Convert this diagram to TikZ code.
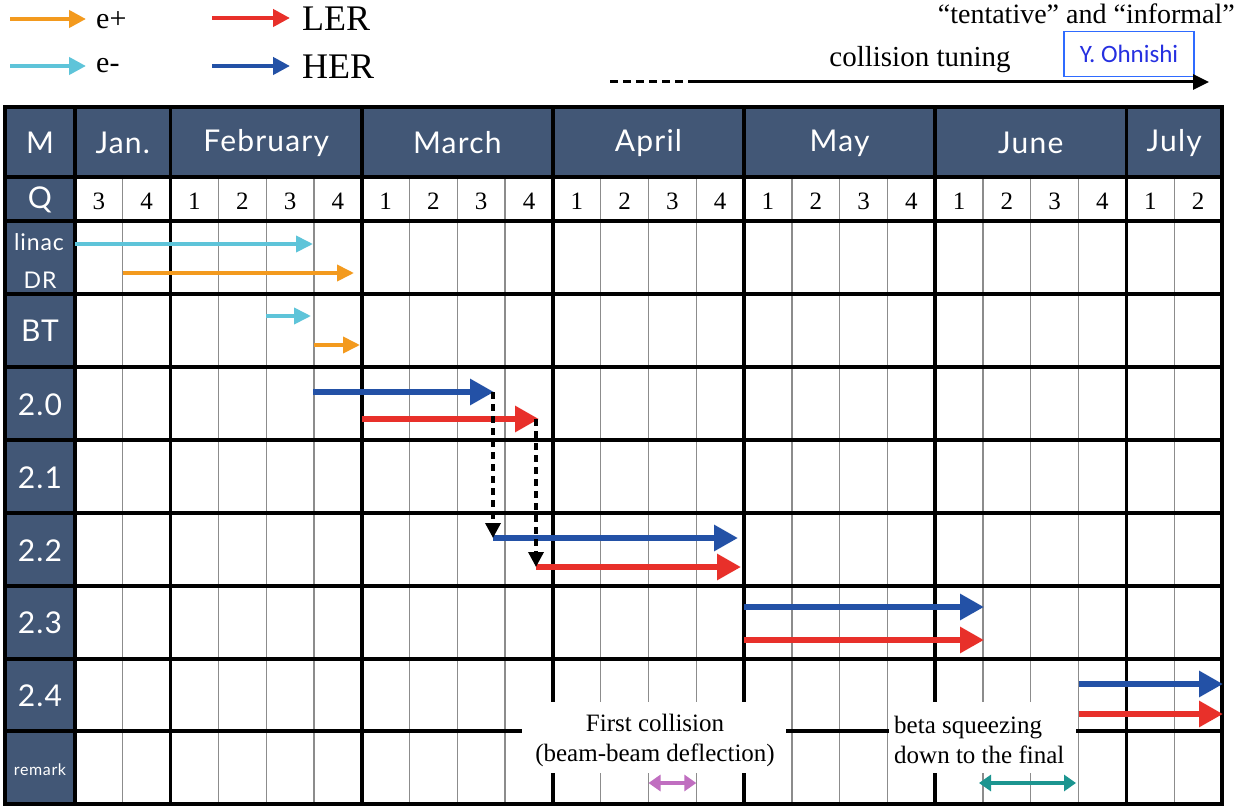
\documentclass[tikz,border=0pt]{standalone}
\usepackage{fontspec}
\setmainfont{Liberation Serif}
\newfontfamily\hdrfont{Lato}[LetterSpace=4]
\newfontfamily\ohfont{Carlito}
\usetikzlibrary{arrows.meta}
\definecolor{hdr}{HTML}{425776}
\definecolor{eplus}{HTML}{F39A1E}
\definecolor{eminus}{HTML}{5EC4D9}
\definecolor{ler}{HTML}{E8302A}
\definecolor{her}{HTML}{2351A6}
\definecolor{pinkarr}{HTML}{C06EC0}
\definecolor{tealarr}{HTML}{1C9590}
\definecolor{ohblue}{HTML}{2F6BFF}
\definecolor{ohtext}{HTML}{2630E0}
\tikzset{
  thinline/.style={draw=black!45, line width=1.3pt},
  thickline/.style={draw=black, line width=3.6pt},
  hdrtext/.style={text=white, font=\hdrfont\fontsize{30}{32}\selectfont, inner sep=0pt},
  lbltext/.style={text=white, font=\hdrfont\fontsize{30}{32}\selectfont, inner sep=0pt},
  smalllbl/.style={text=white, font=\hdrfont\fontsize{23}{25}\selectfont, inner sep=0pt},
  qtext/.style={font=\fontsize{25}{27}\selectfont, inner sep=0pt},
  smallarr/.style={line width=3.8pt, -{Triangle[length=17pt,width=16pt]}},
  legarr/.style={line width=4.2pt, -{Triangle[length=17pt,width=17pt]}},
  bigarr/.style={line width=6pt, -{Triangle[length=24pt,width=25pt]}},
  dasharr/.style={line width=3.4pt, dash pattern=on 7pt off 5pt, -{Triangle[length=15pt,width=15pt]}},
  dblarr/.style={line width=3.8pt, {Triangle[length=12pt,width=16pt]}-{Triangle[length=12pt,width=16pt]}},
  remtext/.style={font=\fontsize{25}{30}\selectfont, inner sep=0pt},
  legtext/.style={anchor=west, inner sep=0pt},
}
\begin{document}
\begin{tikzpicture}[x=1pt,y=-1pt]
\useasboundingbox (0,0) rectangle (1245,808);
% ---------- legend ----------
\coordinate (epS) at (10,19);  \coordinate (epE) at (86,19);
\coordinate (emS) at (10,66);  \coordinate (emE) at (86,66);
\coordinate (lrS) at (212,18); \coordinate (lrE) at (290,18);
\coordinate (hrS) at (212,66); \coordinate (hrE) at (290,66);
\draw[legarr, eplus] (epS) -- (epE);
\draw[legarr, eminus] (emS) -- (emE);
\draw[legarr, ler] (lrS) -- (lrE);
\draw[legarr, her] (hrS) -- (hrE);
\node[legtext, font=\fontsize{30}{32}\selectfont] (legep) at (96,20) {e+};
\node[legtext, font=\fontsize{30}{32}\selectfont] (legem) at (96,66) {e-};
\node[legtext, font=\fontsize{36}{38}\selectfont] (legler) at (302,19) {LER};
\node[legtext, font=\fontsize{36}{38}\selectfont] (legher) at (302,67) {HER};
% ---------- top right ----------
\node[anchor=east, inner sep=0pt, font=\fontsize{28}{30}\selectfont] (tent) at (1235,14) {“tentative” and “informal”};
\node[inner sep=0pt, font=\fontsize{29}{31}\selectfont] (ctune) at (920,60) {collision tuning};
\node[draw=ohblue, line width=1.3pt, minimum width=130pt, minimum height=45pt, inner sep=0pt,
      text=ohtext, font=\ohfont\fontsize{25}{27}\selectfont] (ohn) at (1129,54) {Y. Ohnishi};
\coordinate (ctA) at (610,82); \coordinate (ctB) at (690,82); \coordinate (ctC) at (1209,82);
\draw[line width=3pt, dash pattern=on 8pt off 5pt] (ctA) -- (ctB);
\draw[line width=3pt, -{Triangle[length=16pt,width=15pt]}] (ctB) -- (ctC);
% ---------- table fills ----------
\fill[hdr] (5,107) rectangle (1222,177);
\fill[hdr] (5,177) rectangle (75,804);
\fill[white] (75,177) rectangle (1222,804);
% thin quarter lines
\foreach \k in {1,3,4,5,7,8,9,11,12,13,15,16,17,19,20,21,23}
  \draw[thinline] ({75+47.79*\k},177) -- ({75+47.79*\k},804);
% horizontal thick lines
\foreach \yy in {177,221,294,367,440,513,586,659,731}
  \draw[thickline] (5,\yy) -- (1222,\yy);
% vertical thick lines
\foreach \k in {0,2,6,10,14,18,22}
  \draw[thickline] ({75+47.79*\k},107) -- ({75+47.79*\k},804);
\draw[thickline] (5,107) rectangle (1222,804);
% white boxes in remark row
\fill[white] (522,702) rectangle (786,773);
\fill[white] (889,702) rectangle (1076,773);
% ---------- header texts ----------
\node[hdrtext] (hM) at (40,143) {M};
\node[hdrtext] (hJan) at (122.8,143) {Jan.};
\node[hdrtext] (hFeb) at (266.2,143) {February};
\node[hdrtext] (hMar) at (457.3,143) {March};
\node[hdrtext] (hApr) at (648.5,143) {April};
\node[hdrtext] (hMay) at (839.6,143) {May};
\node[hdrtext] (hJun) at (1030.8,143) {June};
\node[hdrtext] (hJul) at (1174.2,143) {July};
\node[lbltext] (hQ) at (40,200) {Q};
\foreach \k in {0,...,23}{
  \pgfmathtruncatemacro{\qn}{mod(\k+2,4)+1}
  \node[qtext] (q\k) at ({75+47.79*(\k+0.5)},201) {\qn};
}
% ---------- row labels ----------
\node[smalllbl] (rlinac) at (39,242) {linac};
\node[smalllbl] (rdr) at (40,280) {DR};
\node[lbltext] (rbt) at (40,331) {BT};
\node[lbltext] (r20) at (40,405) {2.0};
\node[lbltext] (r21) at (40,478) {2.1};
\node[lbltext] (r22) at (40,551) {2.2};
\node[lbltext] (r23) at (40,623) {2.3};
\node[lbltext] (r24) at (40,696) {2.4};
\node[text=white, font=\hdrfont\fontsize{16}{18}\selectfont, inner sep=0pt] (rrem) at (40,770) {remark};
% ---------- remarks ----------
\node[remtext, align=center] (firstc) at (655,740) {First collision\\(beam-beam deflection)};
\node[remtext, align=left, anchor=west] (betasq) at (894,740) {beta squeezing\\down to the final};
\coordinate (pkS) at (648.5,783); \coordinate (pkE) at (696.3,783);
\coordinate (tlS) at (979,783);   \coordinate (tlE) at (1076,783);
\draw[dblarr, pinkarr] (pkS) -- (pkE);
\draw[dblarr, tealarr] (tlS) -- (tlE);
% ---------- schedule arrows ----------
\coordinate (linS) at (75,244);  \coordinate (linE) at (313,244);
\coordinate (drS) at (122.8,273); \coordinate (drE) at (354,273);
\coordinate (btcS) at (266.2,316); \coordinate (btcE) at (311,316);
\coordinate (btoS) at (314,345); \coordinate (btoE) at (360,345);
\draw[smallarr, eminus] (linS) -- (linE);
\draw[smallarr, eplus] (drS) -- (drE);
\draw[smallarr, eminus] (btcS) -- (btcE);
\draw[smallarr, eplus] (btoS) -- (btoE);
\coordinate (h20S) at (313,392);   \coordinate (h20E) at (494,392);
\coordinate (l20S) at (362,419);   \coordinate (l20E) at (539,419);
\coordinate (hUp) at (493,392);    \coordinate (lUp) at (536,419);
\coordinate (hDn) at (493,538);    \coordinate (lDn) at (536,567);
\coordinate (h22E) at (738,538);   \coordinate (l22E) at (741,567);
\coordinate (h23S) at (744,607);   \coordinate (h23E) at (984,607);
\coordinate (l23S) at (744,640);   \coordinate (l23E) at (984,640);
\coordinate (h24S) at (1078.6,684); \coordinate (h24E) at (1223,684);
\coordinate (l24S) at (1078.6,714); \coordinate (l24E) at (1223,714);
\draw[bigarr, her] (h20S) -- (h20E);
\draw[bigarr, ler] (l20S) -- (l20E);
\draw[bigarr, her] (hDn) -- (h22E);
\draw[bigarr, ler] (lDn) -- (l22E);
\draw[dasharr] (hUp) -- (hDn);
\draw[dasharr] (lUp) -- (lDn);
\draw[bigarr, her] (h23S) -- (h23E);
\draw[bigarr, ler] (l23S) -- (l23E);
\draw[bigarr, her] (h24S) -- (h24E);
\draw[bigarr, ler] (l24S) -- (l24E);
\end{tikzpicture}
\end{document}
